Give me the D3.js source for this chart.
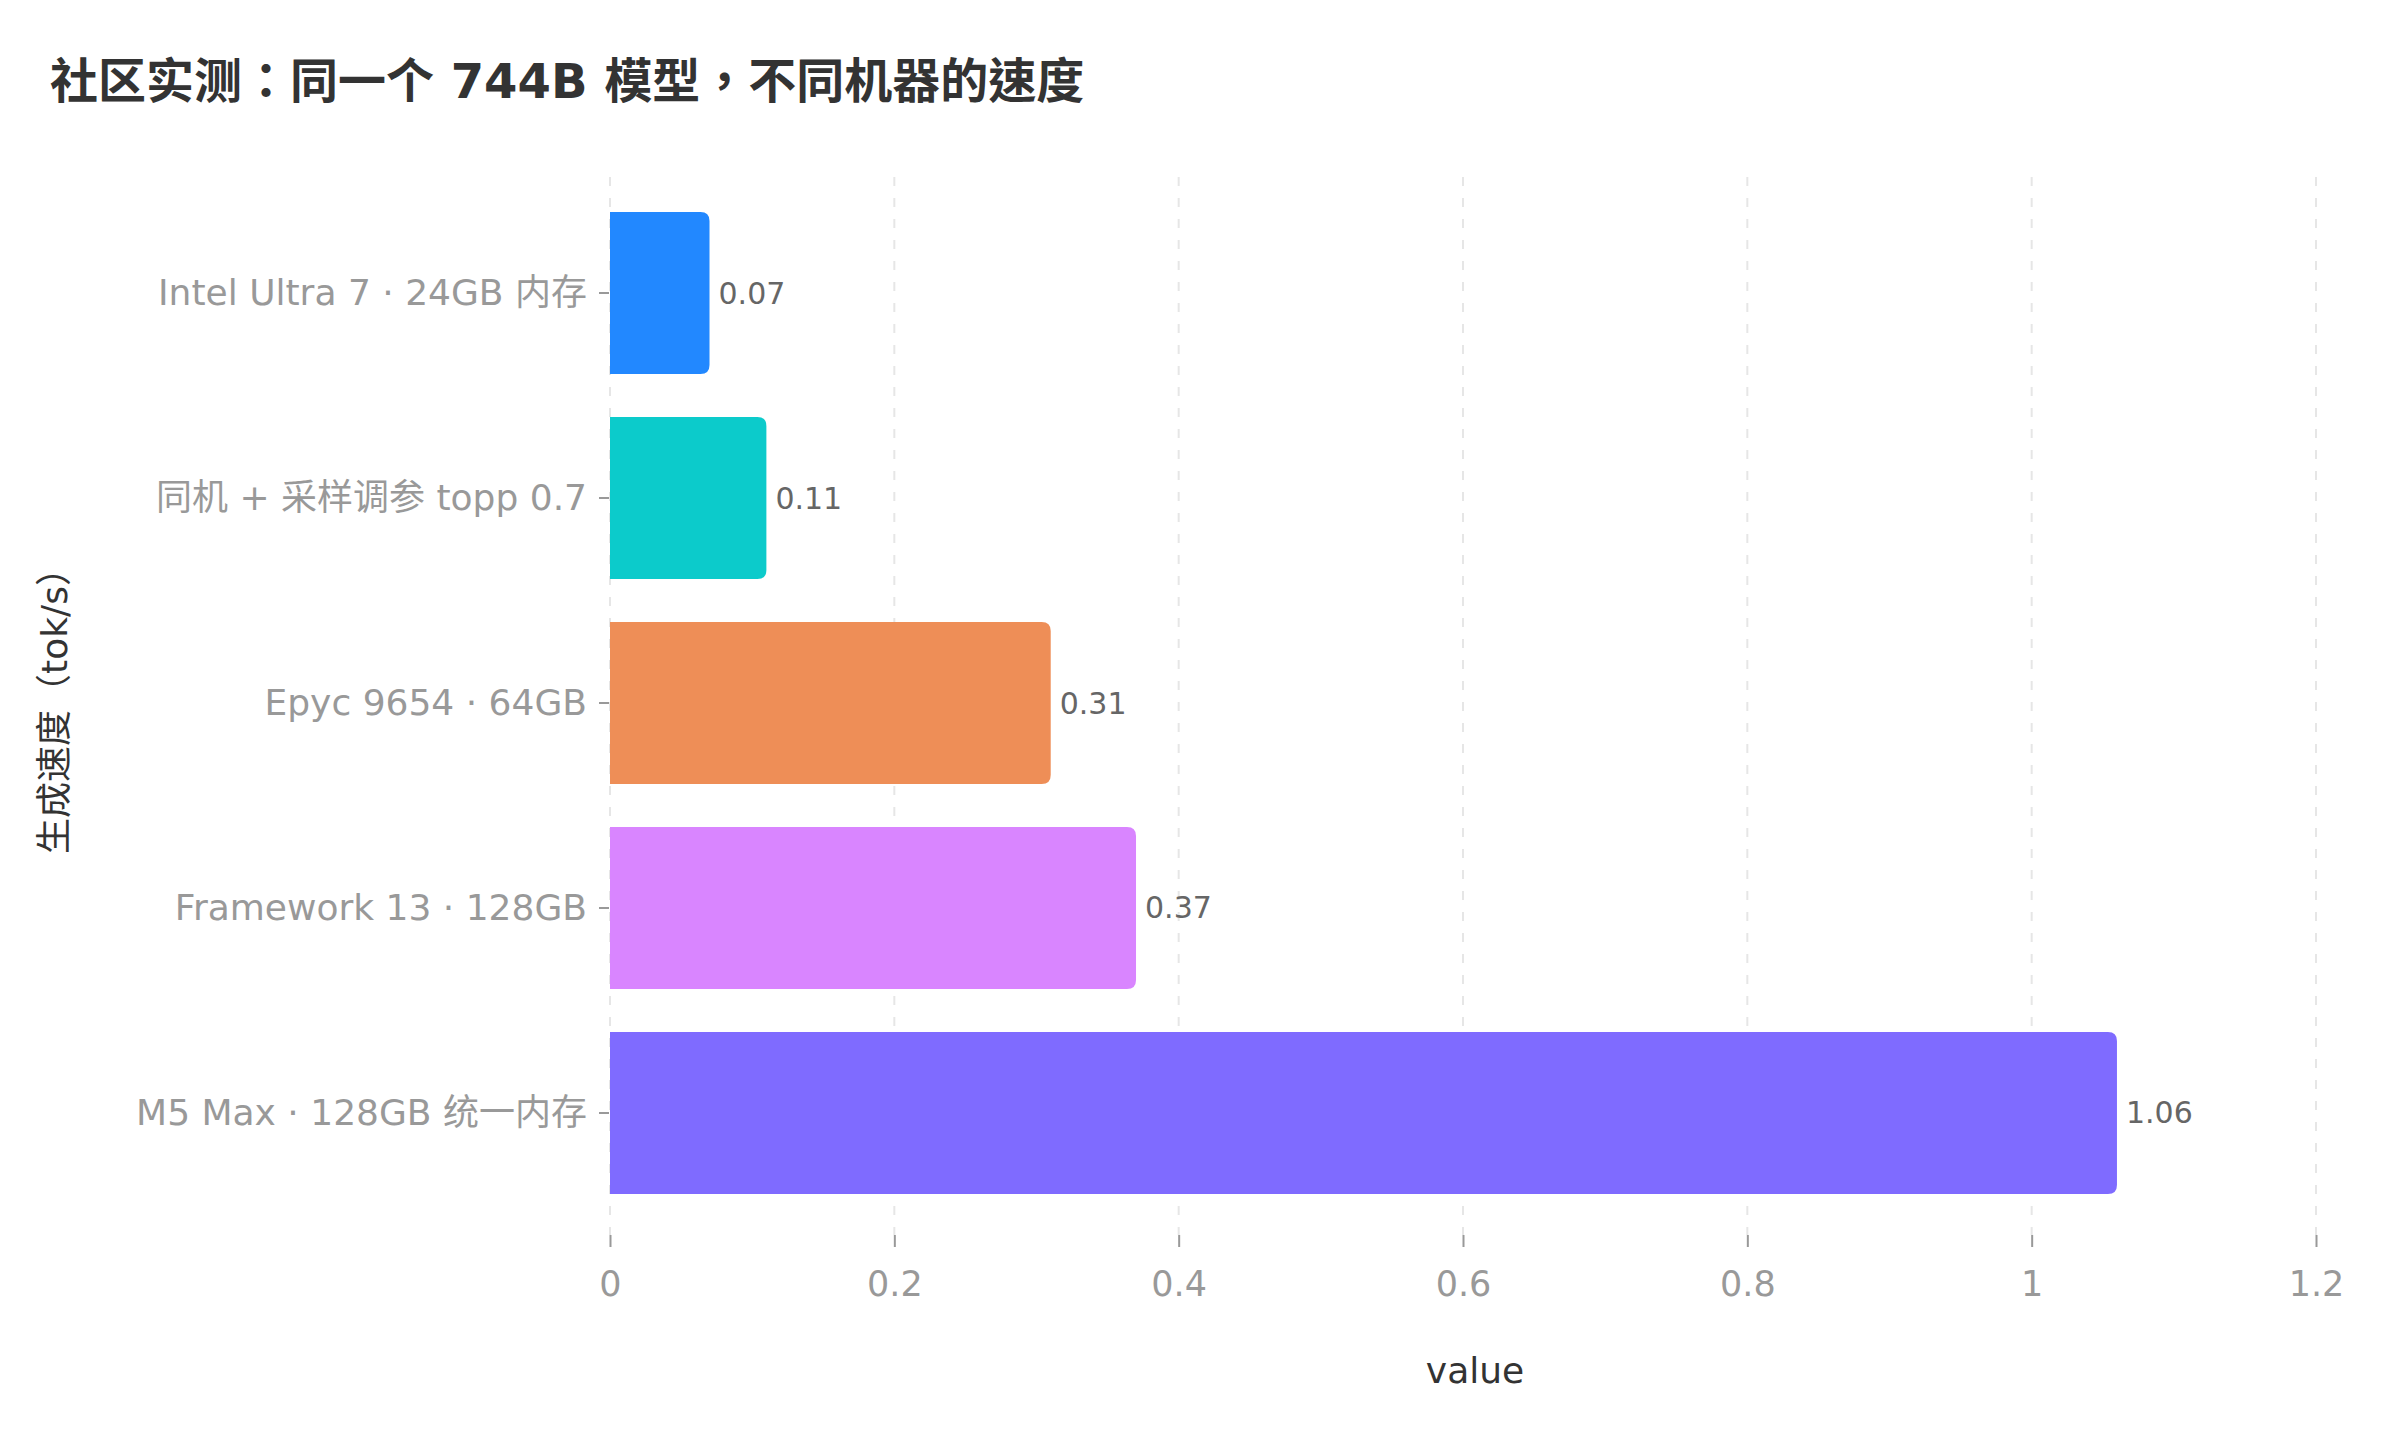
<!DOCTYPE html>
<html>
<head>
<meta charset="utf-8">
<script src="https://cdn.jsdelivr.net/npm/d3@7/dist/d3.min.js"></script>
<style>
  html, body { margin: 0; padding: 0; background: #ffffff; }
  svg { display: block; font-family: "DejaVu Sans", "Noto Sans CJK SC", sans-serif; }
</style>
</head>
<body>
<svg id="chart" width="2400" height="1440"></svg>
<script>
const titleText = "社区实测：同一个 744B 模型，不同机器的速度";
const categories = [
  "Intel Ultra 7 · 24GB 内存",
  "同机 + 采样调参 topp 0.7",
  "Epyc 9654 · 64GB",
  "Framework 13 · 128GB",
  "M5 Max · 128GB 统一内存"
];
const values = [0.07, 0.11, 0.31, 0.37, 1.06];
const barColors = ["#2288ff", "#0ccbcb", "#ee8e57", "#d985ff", "#7f6bff"];
const xTicks = [0, 0.2, 0.4, 0.6, 0.8, 1, 1.2];
const xAxisTitle = "value";
const yAxisTitle = "生成速度（tok/s）";

const svg = d3.select("#chart");
const plotLeft = 610, plotRight = 2316, plotTop = 174, plotBottom = 1232;
const fontStack = "DejaVu Sans, Noto Sans CJK SC, sans-serif";

const x = d3.scaleLinear().domain([0, 1.2]).range([plotLeft, plotRight]);
const y = d3.scaleBand().domain(categories).range([plotTop, plotBottom])
  .paddingInner(0.209).paddingOuter(0.185);

// title
svg.append("text")
  .attr("x", 50).attr("y", 98)
  .attr("font-size", 48).attr("font-weight", "bold")
  .attr("font-family", "DejaVu Sans, Noto Sans CJK TC, sans-serif")
  .attr("fill", "#333333")
  .text(titleText);

// grid lines
svg.append("g").selectAll("line").data(xTicks).join("line")
  .attr("x1", d => x(d)).attr("x2", d => x(d))
  .attr("y1", plotTop + 3).attr("y2", 1235)
  .attr("stroke", "#e6e6e6").attr("stroke-width", 2)
  .attr("stroke-dasharray", "9,12");

// x axis
const xAxis = d3.axisBottom(x).tickValues(xTicks).tickFormat(d3.format("~g"))
  .tickSize(12).tickPadding(24);
const gx = svg.append("g").attr("transform", "translate(0,1235)").call(xAxis);
gx.select(".domain").remove();
gx.selectAll(".tick line").attr("stroke", "#999999").attr("stroke-width", 2);
gx.selectAll(".tick text").attr("fill", "#999999").attr("font-size", 35)
  .attr("font-family", fontStack);

// y axis
const yAxis = d3.axisLeft(y).tickSize(10).tickPadding(12);
const gy = svg.append("g").attr("transform", `translate(${plotLeft - 1},0)`).call(yAxis);
gy.select(".domain").remove();
gy.selectAll(".tick line").attr("stroke", "#999999").attr("stroke-width", 2);
gy.selectAll(".tick text").attr("fill", "#999999").attr("font-size", 36)
  .attr("font-family", fontStack);

// bars with right-rounded corners
const r = 9;
function barPath(d, i) {
  const x0 = x(0), x1 = x(d), y0 = y(categories[i]), h = y.bandwidth();
  const rr = Math.min(r, (x1 - x0) / 2, h / 2);
  return `M${x0},${y0} H${x1 - rr} Q${x1},${y0} ${x1},${y0 + rr} V${y0 + h - rr} Q${x1},${y0 + h} ${x1 - rr},${y0 + h} H${x0} Z`;
}
svg.append("g").selectAll("path").data(values).join("path")
  .attr("d", (d, i) => barPath(d, i))
  .attr("fill", (d, i) => barColors[i]);

// value labels
svg.append("g").selectAll("text").data(values).join("text")
  .attr("x", d => x(d) + 9)
  .attr("y", (d, i) => y(categories[i]) + y.bandwidth() / 2)
  .attr("dominant-baseline", "central")
  .attr("font-size", 30).attr("fill", "#666666")
  .text(d => d3.format("~g")(d));

// axis titles
svg.append("text")
  .attr("x", 1475).attr("y", 1370)
  .attr("text-anchor", "middle").attr("dominant-baseline", "central")
  .attr("font-size", 36).attr("fill", "#333333")
  .text(xAxisTitle);

svg.append("text")
  .attr("transform", "translate(54,702) rotate(-90)")
  .attr("text-anchor", "middle").attr("dominant-baseline", "central")
  .attr("font-size", 36).attr("fill", "#333333")
  .text(yAxisTitle);
</script>
</body>
</html>
